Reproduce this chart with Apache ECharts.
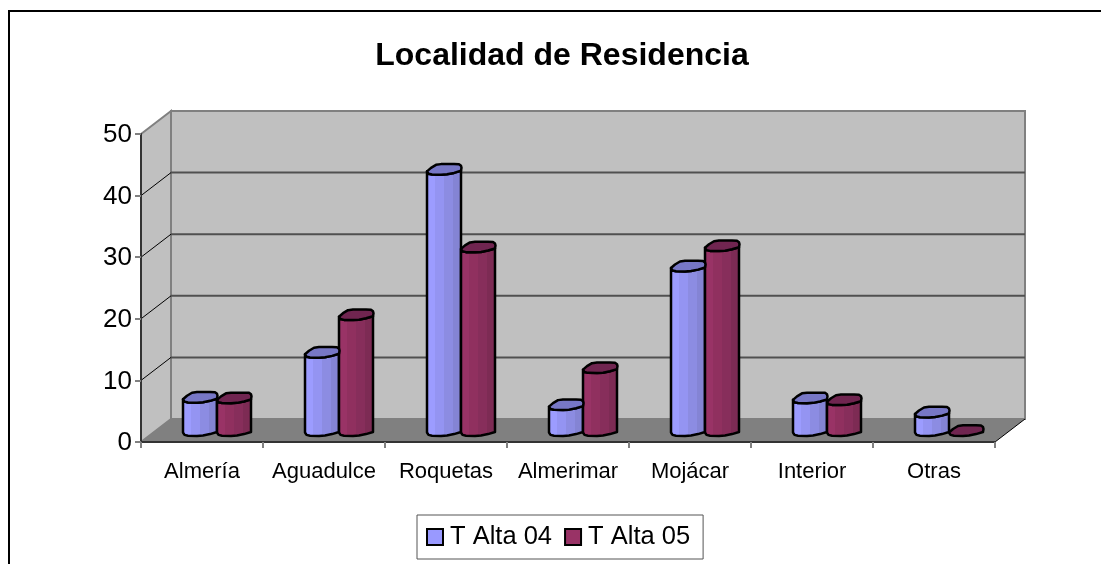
<!DOCTYPE html>
<html>
<head>
<meta charset="utf-8">
<style>html,body{margin:0;padding:0;background:#fff}#chart{width:1101px;height:564px}</style>
<script src="https://cdn.jsdelivr.net/npm/echarts@6/dist/echarts.min.js"></script>
</head>
<body>
<div id="chart"></div>
<script>
var categories = ['Almería', 'Aguadulce', 'Roquetas', 'Almerimar', 'Mojácar', 'Interior', 'Otras'];
var talta04 = [5.4, 12.7, 42.4, 4.2, 26.7, 5.3, 3];
var talta05 = [5.3, 18.8, 29.8, 10.2, 30, 5, 0];
var yTicks = [0, 10, 20, 30, 40, 50];

var myChart = echarts.init(document.getElementById('chart'));
var FONT = '"Liberation Sans", Arial, sans-serif';

// depth of the fake 3d box, in pixels
var depthX = 30, depthY = 23;
var blueStops = ['#9c9cff', '#9494f2', '#8c8ce2', '#8484d4'];
var redStops = ['#993366', '#90305f', '#872e5b', '#7d2b54'];
// outline of the low poly cylinder end, relative to its centre
var backEdge = [[-17, 2], [-13, -1.5], [-8, -4.5], [-3, -5.2], [10, -5.2], [15, -5], [17, -3.5], [17.5, -1.5], [17, 1.5]];
var frontEdge = [[17, 1.5], [10, 3.6], [3, 5], [-3, 5.4], [-12, 5.2], [-15.5, 4.4], [-17, 2]];

function steps(cols) {
    var s = [];
    cols.forEach(function (c, i) {
        s.push({ offset: i / cols.length, color: c });
        s.push({ offset: (i + 1) / cols.length, color: c });
    });
    return new echarts.graphic.LinearGradient(0, 0, 1, 0, s);
}

// walls, floor and gridlines
function renderWalls(params, api) {
    var v = api.value(0);
    var band = api.size([1, 0])[0];
    var left = api.coord([0, v])[0] - band / 2;
    var right = api.coord([categories.length - 1, v])[0] + band / 2;
    var y = api.coord([0, v])[1];
    var children = [];
    if (params.dataIndex === 0) {
        var top = api.coord([0, yTicks[yTicks.length - 1]])[1];
        children.push({ type: 'polygon', z2: 0, shape: { points: [[left + depthX, top - depthY], [right + depthX, top - depthY], [right + depthX, y - depthY], [left + depthX, y - depthY]] },
            style: { fill: '#c0c0c0', stroke: '#808080', lineWidth: 2 } });
        children.push({ type: 'polygon', z2: 0, shape: { points: [[left, top], [left + depthX, top - depthY], [left + depthX, y - depthY], [left, y]] },
            style: { fill: '#c0c0c0', stroke: '#808080', lineWidth: 2 } });
        children.push({ type: 'polygon', z2: 1, shape: { points: [[left, y], [left + depthX, y - depthY], [right + depthX, y - depthY], [right, y]] },
            style: { fill: '#808080', stroke: null } });
        children.push({ type: 'line', z2: 2, shape: { x1: right, y1: y, x2: right + depthX, y2: y - depthY }, style: { stroke: '#000', lineWidth: 1 } });
    } else if (v !== yTicks[yTicks.length - 1]) {
        children.push({ type: 'line', z2: 2, shape: { x1: left + depthX, y1: y - depthY, x2: right + depthX, y2: y - depthY }, style: { stroke: '#505050', lineWidth: 2 } });
        children.push({ type: 'line', z2: 2, shape: { x1: left, y1: y, x2: left + depthX, y2: y - depthY }, style: { stroke: '#000', lineWidth: 1 } });
    }
    return { type: 'group', children: children };
}

function place(edge, cx, cy) {
    return edge.map(function (p) { return [cx + p[0], cy + p[1]]; });
}

function cylinderRenderer(offset, stops, topColor) {
    return function (params, api) {
        var p = api.coord([api.value(0), api.value(1)]);
        var base = api.coord([api.value(0), 0]);
        var cx = p[0] + depthX / 2 + offset;
        var yTop = p[1] - depthY / 2, yBase = base[1] - depthY / 2;
        var children = [];
        if (api.value(1) > 0) {
            var body = place(frontEdge, cx, yBase).concat(place(frontEdge.slice().reverse(), cx, yTop));
            children.push({ type: 'polygon', z2: 1, shape: { points: body },
                style: { fill: steps(stops), stroke: '#000', lineWidth: 2.5, lineJoin: 'round' } });
        }
        children.push({ type: 'polygon', z2: 2, shape: { points: place(backEdge.concat(frontEdge), cx, yTop) },
            style: { fill: topColor, stroke: '#000', lineWidth: 2.5, lineJoin: 'round' } });
        return { type: 'group', children: children };
    };
}

function pairs(arr) {
    return arr.map(function (v, i) { return [i, v]; });
}

var option = {
    animation: false,
    backgroundColor: '#fff',
    title: {
        text: 'Localidad de Residencia',
        left: 557,
        top: 35,
        textAlign: 'center',
        textStyle: { fontFamily: FONT, fontSize: 32, fontWeight: 'bold', color: '#000' }
    },
    legend: {
        left: 417,
        top: 515,
        padding: [9, 13, 9, 9],
        itemGap: 12,
        itemWidth: 16,
        itemHeight: 16,
        icon: 'rect',
        borderColor: '#555',
        borderWidth: 1,
        data: ['T Alta 04', 'T Alta 05'],
        textStyle: { fontFamily: FONT, fontSize: 25.5, color: '#000', padding: [0, 0, 10, 2] },
        itemStyle: { borderColor: '#000', borderWidth: 2 }
    },
    grid: { left: 141, right: 106, top: 134, bottom: 122 },
    xAxis: {
        type: 'category',
        data: categories,
        z: 3,
        axisLine: { lineStyle: { color: '#333', width: 2 } },
        axisTick: { show: true, length: 6, alignWithLabel: false, lineStyle: { color: '#808080', width: 2 } },
        axisLabel: { fontFamily: FONT, fontSize: 22, color: '#000', margin: 19, interval: 0 },
        splitLine: { show: false }
    },
    yAxis: {
        type: 'value',
        min: 0,
        max: 50,
        interval: 10,
        z: 3,
        axisLine: { show: true, lineStyle: { color: '#333', width: 2 } },
        axisTick: { show: true, length: 6, lineStyle: { color: '#808080', width: 2 } },
        axisLabel: { fontFamily: FONT, fontSize: 26, color: '#000', margin: 9, verticalAlign: 'top', padding: [-12, 0, 0, 0] },
        splitLine: { show: false }
    },
    graphic: [{
        type: 'rect',
        silent: true,
        z: -1,
        shape: { x: 9, y: 11, width: 1300, height: 800 },
        style: { fill: 'none', stroke: '#000', lineWidth: 2 }
    }],
    series: [
        {
            type: 'custom',
            name: 'walls',
            silent: true,
            z: 1,
            renderItem: renderWalls,
            clip: false,
            encode: { y: 0 },
            data: yTicks.map(function (v) { return [v]; })
        },
        {
            type: 'custom',
            name: 'T Alta 04',
            z: 2,
            clip: false,
            itemStyle: { color: '#9999ff' },
            renderItem: cylinderRenderer(-17, blueStops, '#7777c6'),
            encode: { x: 0, y: 1 },
            data: pairs(talta04)
        },
        {
            type: 'custom',
            name: 'T Alta 05',
            z: 2,
            clip: false,
            itemStyle: { color: '#993366' },
            renderItem: cylinderRenderer(17, redStops, '#702550'),
            encode: { x: 0, y: 1 },
            data: pairs(talta05)
        }
    ]
};

myChart.setOption(option);
</script>
</body>
</html>
